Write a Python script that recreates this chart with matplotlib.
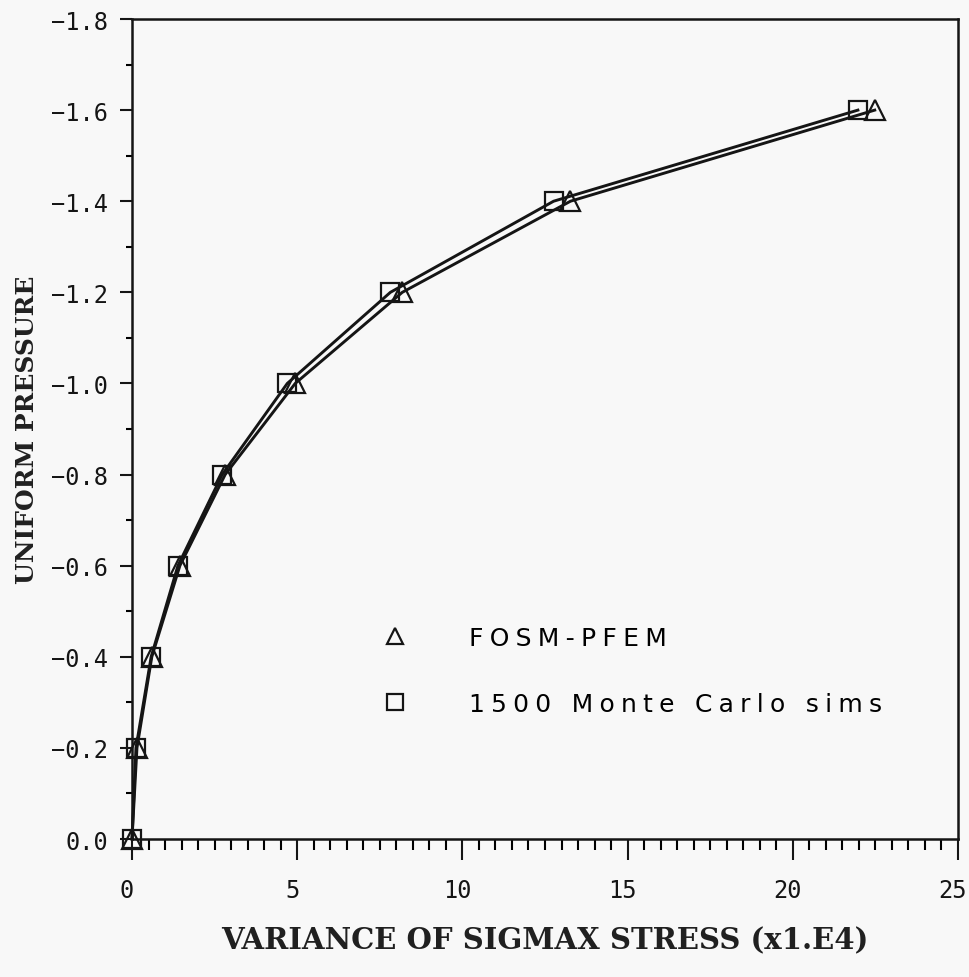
import matplotlib
matplotlib.use('Agg')
import matplotlib.pyplot as plt
import matplotlib.transforms as mtransforms
from matplotlib.lines import Line2D
from matplotlib.ticker import MultipleLocator, FuncFormatter

# uniform pressure levels
pressure = [0.0, -0.2, -0.4, -0.6, -0.8, -1.0, -1.2, -1.4, -1.6]
# variance of sigmax stress (x1.E4)
var_fosm = [0.0, 0.15, 0.60, 1.45, 2.82, 4.94, 8.18, 13.27, 22.48]
var_mc = [0.0, 0.12, 0.58, 1.39, 2.73, 4.70, 7.82, 12.76, 21.97]

label_fosm = 'FOSM-PFEM'
label_mc = '1500 Monte Carlo sims'

INK = '#151515'
W, H = 969, 978
fig = plt.figure(figsize=(W / 100, H / 100), dpi=100, facecolor='#f8f8f8')
ax = fig.add_axes([132 / W, 1 - 840 / H, (958 - 132) / W, (840 - 20) / H])
ax.set_facecolor('#f8f8f8')

ax.plot(var_fosm, pressure, color=INK, lw=2.1, marker='^', ms=14,
        mfc='none', mec=INK, mew=1.6, clip_on=False)
ax.plot(var_mc, pressure, color=INK, lw=2.1, marker='s', ms=13,
        mfc='none', mec=INK, mew=1.6, clip_on=False)

ax.set_xlim(0, 25)
ax.set_ylim(0, -1.8)

ax.xaxis.set_major_locator(MultipleLocator(5))
ax.xaxis.set_minor_locator(MultipleLocator(0.5))
ax.yaxis.set_major_locator(MultipleLocator(0.2))
ax.yaxis.set_minor_locator(MultipleLocator(0.1))

ax.xaxis.set_major_formatter(FuncFormatter(lambda v, p: '{:.0f}'.format(v + 0.0)))
ax.yaxis.set_major_formatter(FuncFormatter(
    lambda v, p: '{:.1f}'.format(v + 0.0).replace('-', '\u2212')))

ax.tick_params(axis='both', which='major', labelsize=17, color=INK,
               labelcolor=INK, width=1.5)
ax.tick_params(axis='x', which='major', direction='out', length=15, pad=13)
ax.tick_params(axis='x', which='minor', direction='out', length=8, width=1.5)
ax.tick_params(axis='y', which='major', direction='out', length=9, pad=8)
ax.tick_params(axis='y', which='minor', direction='out', length=4, width=1.5)
shift = mtransforms.ScaledTranslation(-5 / 100, 0, fig.dpi_scale_trans)
for lbl in ax.get_xticklabels():
    lbl.set_transform(lbl.get_transform() + shift)
for lbl in ax.get_xticklabels() + ax.get_yticklabels():
    lbl.set_family('DejaVu Sans Mono')

for s in ax.spines.values():
    s.set_linewidth(1.8)
    s.set_color(INK)

ax.set_xlabel('VARIANCE OF SIGMAX STRESS (x1.E4)', family='DejaVu Serif',
              fontweight='bold', fontsize=21, color='#202020', labelpad=17)
ax.set_ylabel('UNIFORM PRESSURE', family='DejaVu Serif',
              fontweight='bold', fontsize=18, color='#202020', labelpad=9)


def spread(s):
    # plotter lettering is widely spaced
    return '\u2005'.join(s)


handles = [Line2D([], [], ls='none', marker='^', ms=11, mfc='none',
                  mec=INK, mew=1.6),
           Line2D([], [], ls='none', marker='s', ms=11, mfc='none',
                  mec=INK, mew=1.6)]
ax.legend(handles, [spread(label_fosm), spread(label_mc)], loc='upper left',
          bbox_to_anchor=(383 / W, 1 - 627 / H), bbox_transform=fig.transFigure,
          frameon=False, borderpad=0, borderaxespad=0, handlelength=0.95,
          handletextpad=2.5, labelspacing=1.68,
          prop={'family': 'DejaVu Sans', 'size': 18})

fig.savefig('out.png', dpi=100, facecolor=fig.get_facecolor())
